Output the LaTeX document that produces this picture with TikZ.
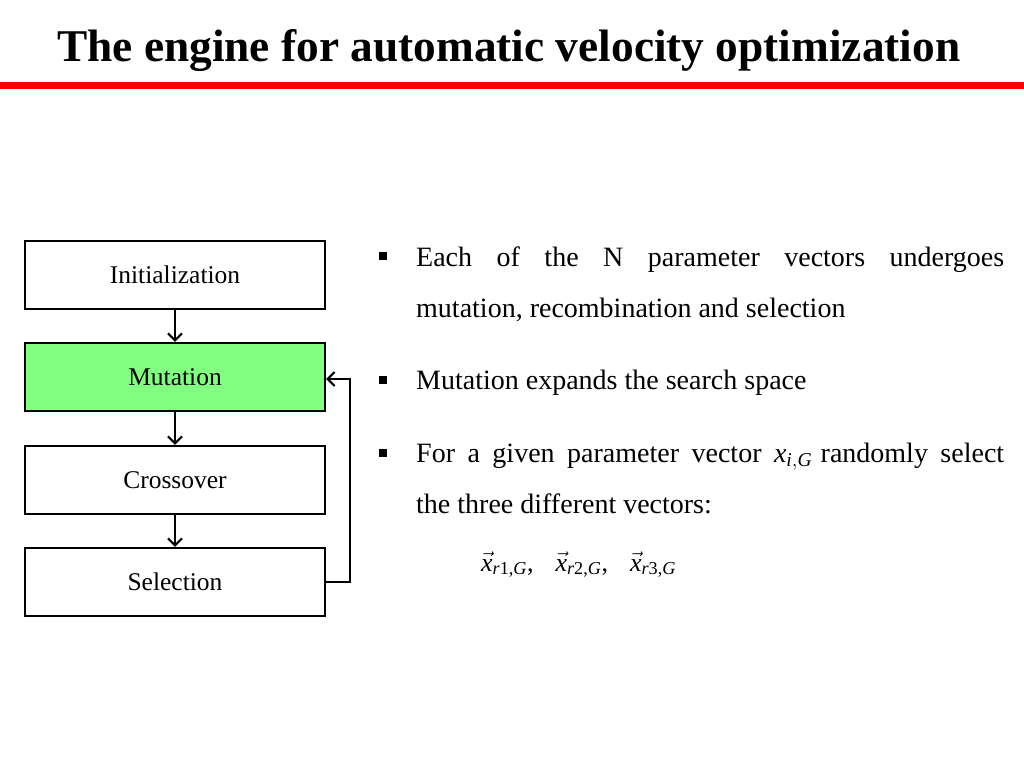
\documentclass[tikz,border=0pt]{standalone}
\usepackage{amsmath}
\usepackage{fontspec}
\setmainfont{Liberation Serif}
\usetikzlibrary{arrows.meta}
\begin{document}
\begin{tikzpicture}[x=1pt,y=-1pt,
  flowbox/.style={draw=black,line width=2.2pt,minimum width=300pt,minimum height=68pt,inner sep=0pt,
    font=\fontsize{25.5}{30}\selectfont},
  flowarrow/.style={line width=2.2pt,-{Straight Barb[length=7pt,width=14pt]}},
  bodytext/.style={anchor=base west,inner sep=0pt,font=\fontsize{28}{34}\selectfont}]
\useasboundingbox (0,0) rectangle (1024,768);
\fill[white] (0,0) rectangle (1024,768);
% title
\node[anchor=base west,inner sep=0pt] (title) at (57,61)
  {\resizebox{903pt}{32pt}{\bfseries The engine for automatic velocity optimization}};
\fill[red] (0,81.5) rectangle (1024,88.5);
% flow chart
\node[flowbox] (init) at (175,275) {Initialization};
\node[flowbox,fill={rgb,255:red,128;green,255;blue,128}] (mut) at (175,377) {Mutation};
\node[flowbox] (cross) at (175,480) {Crossover};
\node[flowbox] (sel) at (175,582) {Selection};
\draw[flowarrow] (init.south) -- (mut.north);
\draw[flowarrow] (mut.south) -- (cross.north);
\draw[flowarrow] (cross.south) -- (sel.north);
\coordinate (fbA) at (350,582);
\coordinate (fbB) at (350,379);
\draw[flowarrow] (sel.east |- fbA) -- (fbA) -- (fbB) -- (mut.east |- fbB);
% bullets
\fill (379,252) rectangle (387,260);
\fill (379,376) rectangle (387,384);
\fill (379,449) rectangle (387,457);
\node[bodytext] (b1a) at (416,266) {\makebox[588pt][s]{Each of the N parameter vectors undergoes}};
\node[bodytext] (b1b) at (416,317) {mutation, recombination and selection};
\node[bodytext] (b2) at (416,389) {Mutation expands the search space};
\node[bodytext] (b3a) at (416,462) {\makebox[588pt][s]{For a given parameter vector \textit{x}\ensuremath{_{\textit{i},\textit{G}}}\hspace{-4pt} randomly select}};
\node[bodytext] (b3b) at (416,513) {the three different vectors:};
\node[anchor=base west,inner sep=0pt,font=\fontsize{26}{30}\selectfont] (vecs) at (481,571)
  {$\vec{\textit{x}}_{\textit{r}\text{1,}\textit{G}}$,\hspace{22pt}$\vec{\textit{x}}_{\textit{r}\text{2,}\textit{G}}$,\hspace{22pt}$\vec{\textit{x}}_{\textit{r}\text{3,}\textit{G}}$};
\end{tikzpicture}
\end{document}
